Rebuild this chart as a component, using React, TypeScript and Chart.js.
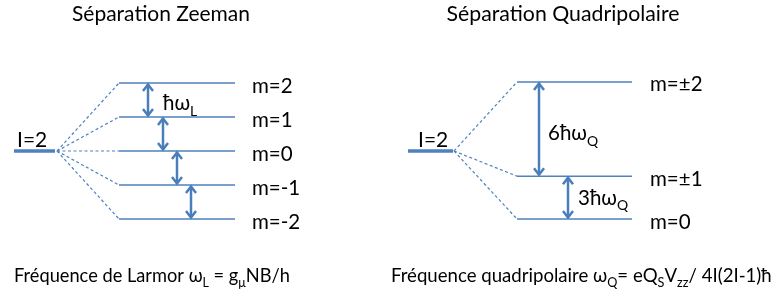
import React, { useEffect, useRef } from "react";
import { Chart, registerables } from "chart.js";

Chart.register(...registerables);

// ---- Data ----
const titles = ["Séparation Zeeman", "Séparation Quadripolaire"];
const groundLabel = "I=2";
const groundEnergy = 0;
const zeemanLabels = ["m=2", "m=1", "m=0", "m=-1", "m=-2"];
const zeemanEnergies = [2, 1, 0, -1, -2];
const zeemanGapLabel = [{ t: "ħω" }, { t: "L", sub: true }];
const quadLabels = ["m=±2", "m=±1", "m=0"];
const quadEnergies = [2.03, -0.74, -2.0];
const quadGapLabels = [
  [{ t: "6ħω" }, { t: "Q", sub: true }],
  [{ t: "3ħω" }, { t: "Q", sub: true }],
];
const formulaZeeman = [
  { t: "Fréquence de Larmor ω" }, { t: "L", sub: true }, { t: " = g" }, { t: "μ", sub: true }, { t: "NB/h" },
];
const formulaQuad = [
  { t: "Fréquence quadripolaire ω" }, { t: "Q", sub: true }, { t: "= eQ" }, { t: "S", sub: true },
  { t: "V" }, { t: "zz", sub: true }, { t: "/ 4I(2I-1)ħ" },
];

// ---- Layout (x in canvas units) ----
const Z = { g0: 14, g1: 55, l0: 119, l1: 235, lab: 252, arrows: [148, 163, 177, 191], title: 161 };
const Q = { g0: 408, g1: 453, l0: 517, l1: 632, lab: 650, arrows: [539, 568], title: 563 };
const BLUE = "#4F81BD";
const ARROW = "#4A7EBB";
const FONT = "Lato, 'Open Sans', sans-serif";

function seg(x0: number, x1: number, y0: number, y1: number, width: number, dash: number[] = []) {
  return {
    type: "line" as const,
    data: [{ x: x0, y: y0 }, { x: x1, y: y1 }],
    borderColor: BLUE,
    borderWidth: width,
    borderDash: dash,
    pointRadius: 0,
    showLine: true,
    fill: false,
  };
}

function drawRich(
  ctx: CanvasRenderingContext2D,
  parts: { t: string; sub?: boolean }[],
  x: number,
  y: number,
  size0: number,
  align: "left" | "center" = "left",
  fitWidth = 0
) {
  const measure = (size: number) => {
    const subSize = size * 0.68;
    let total = 0;
    for (const p of parts) {
      ctx.font = `${p.sub ? subSize : size}px ${FONT}`;
      total += ctx.measureText(p.t).width;
    }
    return total;
  };
  let size = size0;
  let total = measure(size);
  if (fitWidth > 0) {
    size = (size * fitWidth) / total;
    total = measure(size);
  }
  const subSize = size * 0.68;
  let cx = align === "center" ? x - total / 2 : x;
  ctx.textBaseline = "alphabetic";
  ctx.textAlign = "left";
  for (const p of parts) {
    ctx.font = `${p.sub ? subSize : size}px ${FONT}`;
    ctx.fillText(p.t, cx, p.sub ? y + size * 0.28 : y);
    cx += ctx.measureText(p.t).width;
  }
}

function drawArrow(ctx: CanvasRenderingContext2D, x: number, yTop: number, yBot: number) {
  const hw = 5, hl = 7;
  ctx.save();
  ctx.strokeStyle = ARROW;
  ctx.lineWidth = 2.5;
  ctx.lineCap = "butt";
  ctx.lineJoin = "miter";
  ctx.beginPath();
  ctx.moveTo(x, yTop + 1.5);
  ctx.lineTo(x, yBot - 1.5);
  ctx.stroke();
  ctx.beginPath();
  ctx.moveTo(x - hw, yTop + 1 + hl);
  ctx.lineTo(x, yTop + 1.5);
  ctx.lineTo(x + hw, yTop + 1 + hl);
  ctx.stroke();
  ctx.beginPath();
  ctx.moveTo(x - hw, yBot - 1 - hl);
  ctx.lineTo(x, yBot - 1.5);
  ctx.lineTo(x + hw, yBot - 1 - hl);
  ctx.stroke();
  ctx.restore();
}

const overlay = {
  id: "overlay",
  afterDatasetsDraw(chart: any) {
    const ctx: CanvasRenderingContext2D = chart.ctx;
    const xs = chart.scales.x, ys = chart.scales.y;
    const px = (v: number) => xs.getPixelForValue(v);
    const py = (v: number) => ys.getPixelForValue(v);
    ctx.save();
    ctx.fillStyle = "#000";
    // titles
    drawRich(ctx, [{ t: titles[0] }], px(Z.title), 21, 21, "center", 178);
    drawRich(ctx, [{ t: titles[1] }], px(Q.title), 21, 21, "center", 233);
    // ground labels
    drawRich(ctx, [{ t: groundLabel }], px(Z.g0) + 3, py(groundEnergy) - 4, 21);
    drawRich(ctx, [{ t: groundLabel }], px(Q.g0) + 10, py(groundEnergy) - 4, 21);
    // level labels
    zeemanLabels.forEach((l, i) => drawRich(ctx, [{ t: l }], px(Z.lab), py(zeemanEnergies[i]) + 9.5, 20.5));
    quadLabels.forEach((l, i) => drawRich(ctx, [{ t: l }], px(Q.lab), py(quadEnergies[i]) + 9.5, 20.5));
    // arrows
    for (let i = 0; i < zeemanEnergies.length - 1; i++) {
      drawArrow(ctx, px(Z.arrows[i]), py(zeemanEnergies[i]), py(zeemanEnergies[i + 1]));
    }
    for (let i = 0; i < quadEnergies.length - 1; i++) {
      drawArrow(ctx, px(Q.arrows[i]), py(quadEnergies[i]), py(quadEnergies[i + 1]));
    }
    // gap labels
    ctx.fillStyle = "#000";
    drawRich(ctx, zeemanGapLabel, px(Z.arrows[0]) + 15, (py(zeemanEnergies[0]) + py(zeemanEnergies[1])) / 2 + 10, 20.5);
    drawRich(ctx, quadGapLabels[0], px(Q.arrows[0]) + 9, (py(quadEnergies[0]) + py(quadEnergies[1])) / 2 + 11, 20.5);
    drawRich(ctx, quadGapLabels[1], px(Q.arrows[1]) + 10, (py(quadEnergies[1]) + py(quadEnergies[2])) / 2 + 7, 20.5);
    // formulas
    drawRich(ctx, formulaZeeman, px(Z.g0), 282, 19, "left", 276);
    drawRich(ctx, formulaQuad, px(Q.g0) - 17, 282, 19, "left", 381);
    ctx.restore();
  },
};

export default function App() {
  const ref = useRef<HTMLCanvasElement>(null);
  useEffect(() => {
    document.body.style.margin = "0";
    const datasets: any[] = [];
    // Zeeman
    datasets.push(seg(Z.g0, Z.g1, groundEnergy, groundEnergy, 3.5));
    zeemanEnergies.forEach((e) => {
      datasets.push(seg(Z.g1 + 2, Z.l0, groundEnergy, e, 1.2, [3, 2.5]));
      datasets.push(seg(Z.l0, Z.l1, e, e, 1.5));
    });
    // Quadrupole
    datasets.push(seg(Q.g0, Q.g1, groundEnergy, groundEnergy, 3.5));
    quadEnergies.forEach((e) => {
      datasets.push(seg(Q.g1 + 1, Q.l0, groundEnergy, e, 1.2, [3, 2.5]));
      datasets.push(seg(Q.l0, Q.l1, e, e, 1.5));
    });
    const chart = new Chart(ref.current!, {
      type: "scatter",
      data: { datasets },
      options: {
        animation: false,
        responsive: false,
        maintainAspectRatio: false,
        layout: { padding: 0 },
        plugins: { legend: { display: false }, tooltip: { enabled: false } },
        scales: {
          x: { type: "linear", min: 0, max: 776, display: false },
          y: { type: "linear", min: (151 - 299) / 34, max: 151 / 34, display: false },
        },
      },
      plugins: [overlay],
    });
    return () => chart.destroy();
  }, []);
  return (
    <div style={{ width: 776, height: 299, background: "#fff" }}>
      <canvas ref={ref} width={776} height={299} style={{ display: "block" }} />
    </div>
  );
}
